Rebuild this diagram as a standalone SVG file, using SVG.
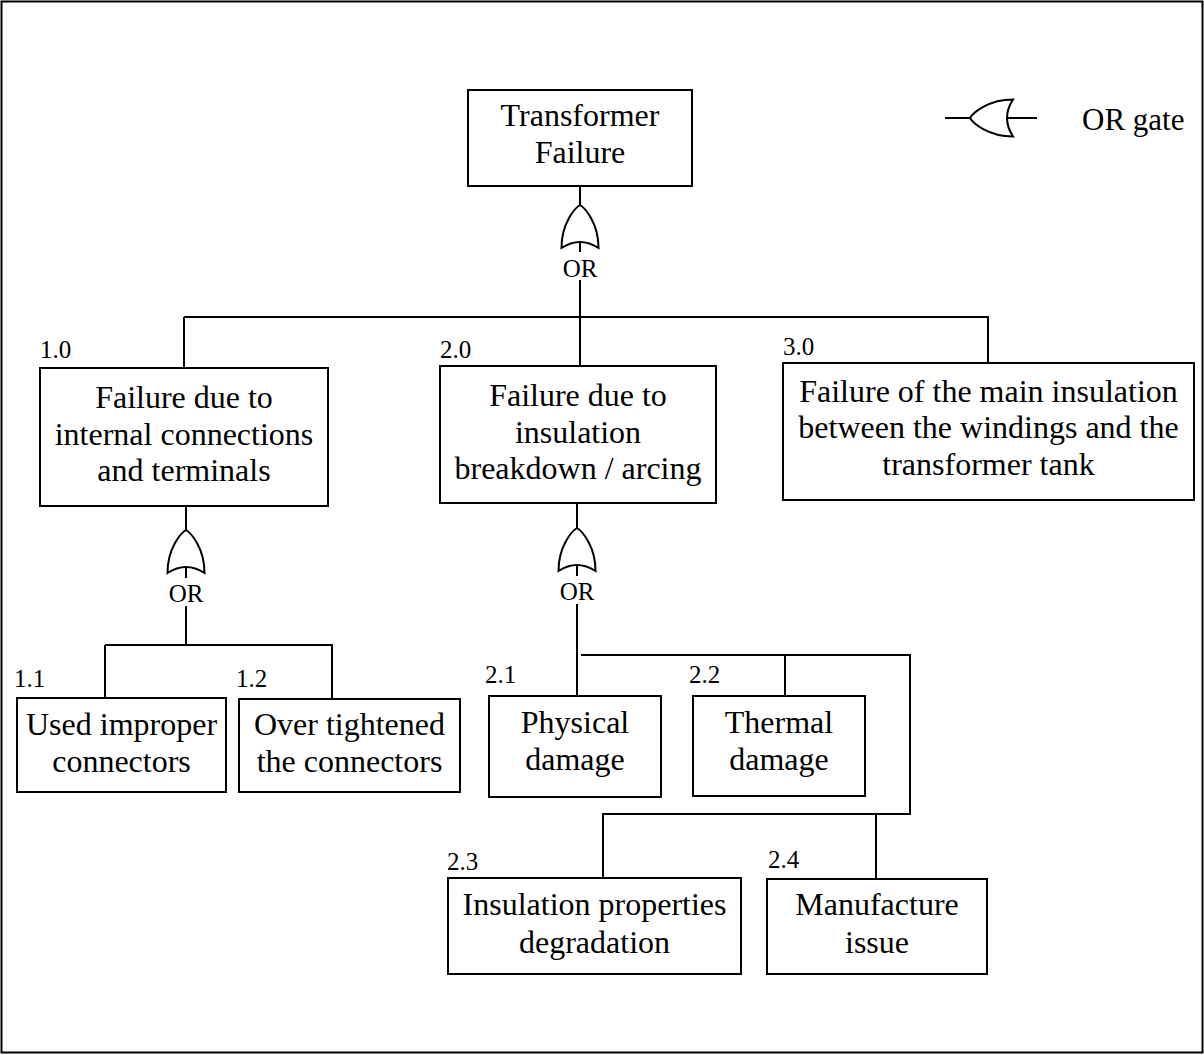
<svg xmlns="http://www.w3.org/2000/svg" width="1204" height="1055" viewBox="0 0 1204 1055">
<style>
.box{fill:#fff;stroke:#000;stroke-width:2}
.t{font-family:"Liberation Serif","Times New Roman",serif;font-size:32px;fill:#000;text-anchor:middle}
.n{font-family:"Liberation Serif","Times New Roman",serif;font-size:25px;fill:#000}
.or{font-family:"Liberation Serif","Times New Roman",serif;font-size:25px;fill:#000;text-anchor:middle}
.ln{fill:none;stroke:#000;stroke-width:2}
.gate{fill:#fff;stroke:#000;stroke-width:2;stroke-linejoin:miter}
</style>
<defs>
<path id="orgate" class="gate" d="M -18.5,43 C -18.5,18 -5,3 0,0 C 5,3 18.5,18 18.5,43 Q 0,31 -18.5,43 Z"/>
</defs>
<rect x="1.5" y="1.5" width="1201" height="1051" fill="#fff" stroke="#000" stroke-width="2"/>

<g id="connectors">
<path class="ln" d="M580,186 V205 M580,242 V252 M580,280 V366 M184,317 H988 V363 M184,317 V368"/>
<path class="ln" d="M186,506 V530 M186,568 V578 M186,606 V645 M105,645 H332 V699 M105,645 V698"/>
<path class="ln" d="M577,503 V528 M577,566 V576 M577,604 V696 M581,655 H910 V814 H603 V878 M785,655 V696 M876,814 V879"/>
</g>

<g id="gates">
<use href="#orgate" transform="translate(580,205)"/>
<text class="or" x="580" y="277">OR</text>
<use href="#orgate" transform="translate(186,530)"/>
<text class="or" x="186" y="602">OR</text>
<use href="#orgate" transform="translate(577,528)"/>
<text class="or" x="577" y="600">OR</text>
</g>

<g id="legend">
<path class="ln" d="M945,118 H970 M1007,118 H1037"/>
<use href="#orgate" transform="translate(970,118) rotate(-90)"/>
<text x="1082" y="130" style="font-family:'Liberation Serif','Times New Roman',serif;font-size:31px">OR gate</text>
</g>

<g id="node-top">
<rect class="box" x="468" y="90" width="224" height="96"/>
<text class="t" x="580" y="126">Transformer</text>
<text class="t" x="580" y="163">Failure</text>
</g>

<g id="node-1-0">
<text class="n" x="40" y="358">1.0</text>
<rect class="box" x="40" y="368" width="288" height="138"/>
<text class="t" x="184" y="408">Failure due to</text>
<text class="t" x="184" y="445">internal connections</text>
<text class="t" x="184" y="481">and terminals</text>
</g>

<g id="node-2-0">
<text class="n" x="440" y="358">2.0</text>
<rect class="box" x="440" y="366" width="276" height="137"/>
<text class="t" x="578" y="406">Failure due to</text>
<text class="t" x="578" y="443">insulation</text>
<text class="t" x="578" y="479">breakdown / arcing</text>
</g>

<g id="node-3-0">
<text class="n" x="783" y="355">3.0</text>
<rect class="box" x="783" y="363" width="411" height="137"/>
<text class="t" x="988.5" y="402">Failure of the main insulation</text>
<text class="t" x="988.5" y="438">between the windings and the</text>
<text class="t" x="988.5" y="475">transformer tank</text>
</g>

<g id="node-1-1">
<text class="n" x="14" y="687">1.1</text>
<rect class="box" x="17" y="698" width="209" height="94"/>
<text class="t" x="121.5" y="735">Used improper</text>
<text class="t" x="121.5" y="772">connectors</text>
</g>

<g id="node-1-2">
<text class="n" x="236" y="687">1.2</text>
<rect class="box" x="239" y="699" width="221" height="93"/>
<text class="t" x="349.5" y="735">Over tightened</text>
<text class="t" x="349.5" y="772">the connectors</text>
</g>

<g id="node-2-1">
<text class="n" x="485" y="683">2.1</text>
<rect class="box" x="489" y="696" width="172" height="101"/>
<text class="t" x="575" y="733">Physical</text>
<text class="t" x="575" y="770">damage</text>
</g>

<g id="node-2-2">
<text class="n" x="689" y="683">2.2</text>
<rect class="box" x="693" y="696" width="172" height="100"/>
<text class="t" x="779" y="733">Thermal</text>
<text class="t" x="779" y="770">damage</text>
</g>

<g id="node-2-3">
<text class="n" x="447" y="870">2.3</text>
<rect class="box" x="448" y="878" width="293" height="96"/>
<text class="t" x="594.5" y="915">Insulation properties</text>
<text class="t" x="594.5" y="953">degradation</text>
</g>

<g id="node-2-4">
<text class="n" x="768" y="868">2.4</text>
<rect class="box" x="767" y="879" width="220" height="95"/>
<text class="t" x="877" y="915">Manufacture</text>
<text class="t" x="877" y="953">issue</text>
</g>
</svg>
